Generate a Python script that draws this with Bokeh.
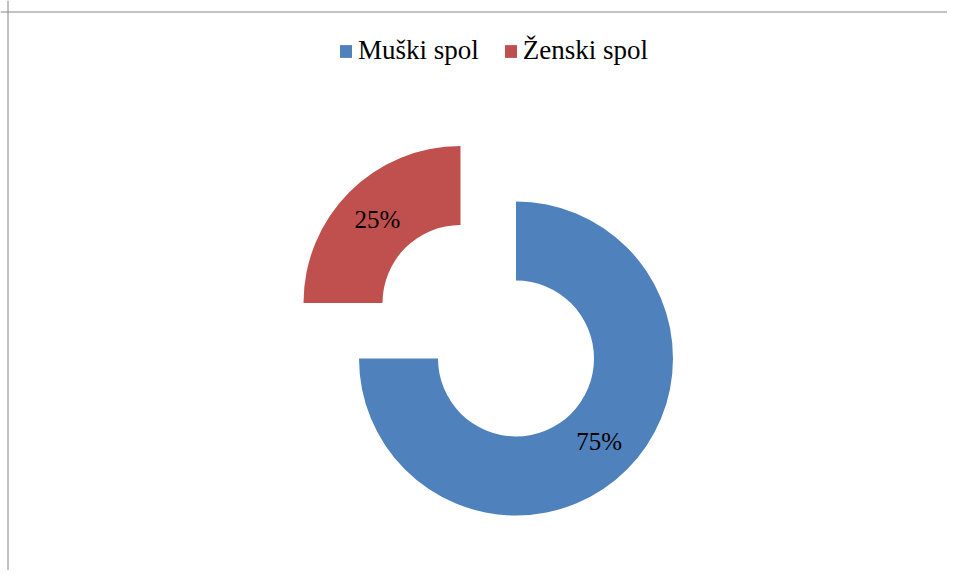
import numpy as np
from bokeh.plotting import figure
from bokeh.models import Range1d, Span, Legend, LegendItem, ColumnDataSource
from bokeh.core.properties import value
from bokeh.embed import file_html
from bokeh.resources import INLINE

# ---- data ----
categories = ["Muški spol", "Ženski spol"]
values = [75, 25]
colors = ["#4F81BD", "#C0504D"]
explode = [0.0, 0.5]          # fraction of outer radius

# ---- geometry / style ----
W, H = 947, 570
OUTER, INNER = 157, 78
FONT = "Liberation Serif, DejaVu Serif, serif"

total = float(sum(values))
start = np.pi / 2
cum = 0.0
a0s, a1s, xs, ys, lx, ly, labels = [], [], [], [], [], [], []
for v, e in zip(values, explode):
    sweep = v / total * 2 * np.pi
    a0 = start - cum
    a1 = a0 - sweep
    mid = (a0 + a1) / 2
    cx = e * OUTER * np.cos(mid)
    cy = e * OUTER * np.sin(mid)
    a0s.append(a0); a1s.append(a1)
    xs.append(cx); ys.append(cy)
    rm = (OUTER + INNER) / 2
    lx.append(cx + rm * np.cos(mid)); ly.append(cy + rm * np.sin(mid))
    labels.append(f"{round(v / total * 100)}%")
    cum += sweep

src = ColumnDataSource(dict(x=xs, y=ys, a0=a0s, a1=a1s, color=colors, cat=categories))
lsrc = ColumnDataSource(dict(x=lx, y=ly, text=labels))

p = figure(width=W, height=H, output_backend="svg", toolbar_location=None,
           x_range=Range1d(-515.5, 431.5), y_range=Range1d(-212, 358),
           x_axis_type=None, y_axis_type=None, min_border=0,
           outline_line_color=None, background_fill_color="white",
           border_fill_color="white")
p.grid.visible = False

r = p.annular_wedge(x="x", y="y", inner_radius=INNER, outer_radius=OUTER,
                    start_angle="a0", end_angle="a1", direction="clock",
                    fill_color="color", line_color=None, source=src)

p.text(x="x", y="y", text="text", source=lsrc, text_align="center",
       text_baseline="middle", text_font=value(FONT), text_font_size="25px",
       text_color="black")

items = [LegendItem(label=c, renderers=[r], index=i) for i, c in enumerate(categories)]
legend = Legend(items=items, orientation="horizontal", location=(338, 504),
                label_text_font=FONT, label_text_font_size="27px",
                label_text_color="black", glyph_width=15, glyph_height=16,
                label_standoff=5, spacing=24, padding=0, margin=0,
                border_line_color=None, background_fill_alpha=0)
p.add_layout(legend)

# chart frame lines
p.add_layout(Span(location=-508, dimension="height", line_color="#868686", line_width=1))
p.add_layout(Span(location=346.5, dimension="width", line_color="#868686", line_width=1))

open("out.html", "w").write(file_html(p, INLINE))
